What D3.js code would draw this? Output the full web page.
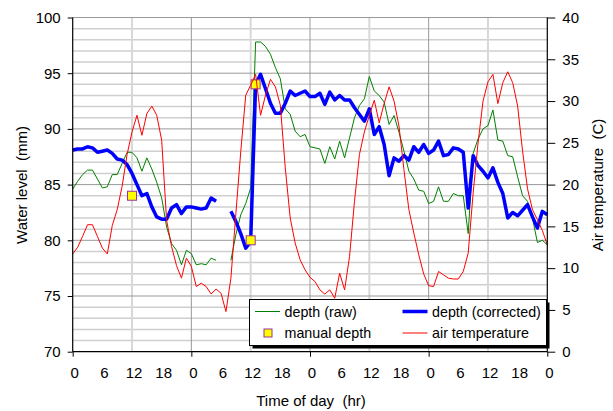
<!DOCTYPE html>
<html>
<head>
<meta charset="utf-8">
<script src="https://cdn.jsdelivr.net/npm/d3@7"></script>
<style>
  body { margin: 0; background: #fff; }
  svg text { font-family: "Liberation Sans", Arial, sans-serif; fill: #000; white-space: pre; }
</style>
</head>
<body>
<svg id="chart" width="613" height="411"></svg>
<script>
// hourly readings, 0..96 h
const hours = d3.range(0, 97);

const airTemp = [
  11.7, 12.5, 13.8, 15.2, 15.2, 13.8, 12.4, 11.7, 15.1, 17.0,
  19.8, 23.6, 26.3, 28.3, 25.9, 28.5, 29.4, 28.3, 25.3, 15.7,
  12.6, 10.3, 8.8, 11.2, 10.2, 7.8, 8.2, 7.8, 6.9, 7.5,
  7.0, 4.8, 8.8, 16.5, 24.0, 30.7, 31.9, 33.2, 28.3, 30.7,
  32.6, 31.7, 29.5, 22.0, 16.0, 13.0, 11.0, 9.8, 8.9, 8.4,
  7.4, 6.9, 7.4, 6.4, 9.4, 7.4, 11.4, 18.0, 23.6, 26.3,
  28.3, 30.1, 27.4, 29.7, 31.7, 30.0, 27.0, 21.8, 17.0, 14.2,
  11.6, 9.3, 7.9, 7.8, 9.6, 9.2, 8.8, 8.7, 8.7, 9.6,
  11.8, 19.0, 25.0, 30.0, 32.3, 33.2, 29.7, 32.2, 33.5, 32.2,
  29.4, 24.0, 19.5, 17.0, 15.8, 14.5, 12.8
];

const rawDepth = [
  84.6, 85.3, 85.9, 86.3, 86.3, 85.5, 84.7, 84.8, 85.9, 85.9,
  86.9, 87.9, 87.9, 87.4, 86.2, 87.4, 86.4, 85.2, 83.8, 81.2,
  79.7, 79.1, 77.8, 79.1, 78.8, 77.8, 77.9, 77.8, 78.4, 78.2,
  null, null, 78.2, 80.5, 82.3, 83.3, 84.7, 97.8, 97.8, 97.4,
  96.7, 95.5, 94.5, 91.8, 91.3, 89.8, 89.3, 89.5, 88.4, 88.3,
  88.2, 86.9, 88.4, 87.3, 88.9, 87.4, 89.2, 91.0, 92.1, 92.7,
  94.7, 93.4, 93.0, 92.4, 90.4, 91.2, 89.7, 88.0, 86.2, 85.5,
  84.5, 84.4, 83.3, 83.5, 84.8, 83.5, 83.5, 84.2, 84.0, 84.0,
  80.6, 87.8, 89.1, 90.0, 90.3, 91.7, 89.0, 88.9, 87.6, 87.5,
  85.7, 84.0, 83.5, 82.0, 79.8, 80.0, 79.6
];

const corrDepth = [
  88.1, 88.2, 88.2, 88.4, 88.3, 87.9, 88.0, 88.1, 87.8, 87.3,
  87.2, 86.8, 86.0, 85.0, 84.0, 84.2, 83.0, 82.1, 81.9, 81.9,
  82.9, 83.2, 82.4, 83.0, 83.0, 82.9, 82.8, 82.9, 83.8, 83.5,
  null, null, 82.6, 81.7, 80.6, 79.3, 79.9, 94.0, 94.9, 93.6,
  92.3, 91.4, 91.4, 92.3, 93.4, 93.0, 93.2, 93.4, 92.9, 92.9,
  93.2, 92.2, 93.3, 92.6, 93.0, 92.6, 92.6, 91.9, 91.3, 90.7,
  91.8, 89.5, 90.2, 88.6, 85.8, 87.4, 87.1, 87.6, 87.2, 88.4,
  87.9, 88.6, 87.8, 88.1, 88.9, 87.6, 87.7, 88.3, 88.2, 87.9,
  82.9, 87.6, 86.7, 86.2, 85.6, 86.5, 85.2, 84.2, 82.0, 82.5,
  82.2, 82.7, 83.2, 82.1, 81.1, 82.6, 82.3
];

const manualHours = [12, 36, 37];
const manualDepth = [84.0, 80.0, 94.0];

const depthTicks = [70, 75, 80, 85, 90, 95, 100];
const tempTicks = [0, 5, 10, 15, 20, 25, 30, 35, 40];
const hourTicks = d3.range(0, 97, 6);

const svg = d3.select("#chart");
const plotL = 72.7, plotR = 547.3, plotT = 17.5, plotB = 351.7;

const x = d3.scaleLinear().domain([0, 96]).range([plotL, plotR]);
const yL = d3.scaleLinear().domain([70, 100]).range([plotB, plotT]);
const yR = d3.scaleLinear().domain([0, 40]).range([plotB, plotT]);

// grid
const grid = svg.append("g");
grid.selectAll("line.minor")
  .data(d3.range(71, 100).filter(d => d % 5 != 0))
  .enter().append("line")
  .attr("x1", plotL).attr("x2", plotR)
  .attr("y1", d => yL(d)).attr("y2", d => yL(d))
  .attr("stroke", "#cfcfcf").attr("stroke-width", 1.5);
grid.selectAll("line.vmin")
  .data([12, 36, 60, 84])
  .enter().append("line")
  .attr("x1", d => x(d)).attr("x2", d => x(d))
  .attr("y1", plotT).attr("y2", plotB)
  .attr("stroke", "#d8d8d8").attr("stroke-width", 2);
grid.selectAll("line.major")
  .data([75, 80, 85, 90, 95, 100])
  .enter().append("line")
  .attr("x1", plotL).attr("x2", plotR)
  .attr("y1", d => yL(d)).attr("y2", d => yL(d))
  .attr("stroke", "#999").attr("stroke-width", 1);
grid.selectAll("line.vmaj")
  .data([24, 48, 72])
  .enter().append("line")
  .attr("x1", d => x(d)).attr("x2", d => x(d))
  .attr("y1", plotT).attr("y2", plotB)
  .attr("stroke", "#999").attr("stroke-width", 1);

// series
const lineOf = (scale, vals) => d3.line()
  .defined((d, i) => vals[i] != null)
  .x(d => x(d))
  .y((d, i) => scale(vals[i]));

svg.append("path").datum(hours)
  .attr("d", lineOf(yL, rawDepth))
  .attr("fill", "none").attr("stroke", "#008000").attr("stroke-width", 1);

svg.append("path").datum(hours)
  .attr("d", lineOf(yL, corrDepth))
  .attr("fill", "none").attr("stroke", "#0000ff").attr("stroke-width", 3.5)
  .attr("stroke-linejoin", "round");

svg.selectAll("rect.manual")
  .data(manualHours)
  .enter().append("rect")
  .attr("x", d => x(d) - 4.5)
  .attr("y", (d, i) => yL(manualDepth[i]) - 4.5)
  .attr("width", 9).attr("height", 9)
  .attr("fill", "#ffff00").attr("stroke", "#993399").attr("stroke-width", 1);

svg.append("path").datum(hours)
  .attr("d", lineOf(yR, airTemp))
  .attr("fill", "none").attr("stroke", "#ff0000").attr("stroke-width", 1);

// axes
const axL = svg.append("g").attr("transform", `translate(${plotL},0)`)
  .call(d3.axisLeft(yL).tickValues(depthTicks).tickSize(5).tickPadding(7));
const axR = svg.append("g").attr("transform", `translate(${plotR},0)`)
  .call(d3.axisRight(yR).tickValues(tempTicks).tickSize(8).tickPadding(7));
const axB = svg.append("g").attr("transform", `translate(0,${plotB})`)
  .call(d3.axisBottom(x).tickValues(hourTicks).tickFormat(d => d % 24).tickSize(5).tickPadding(11));
axB.selectAll(".tick line").attr("y2", d => d % 24 == 0 ? 5 : 0);
axB.selectAll(".tick text").attr("dx", 1.5);

[axL, axR, axB].forEach(a => {
  a.select(".domain").attr("stroke", "#000").attr("stroke-width", 1.2);
  a.selectAll(".tick line").attr("stroke", "#000");
  a.selectAll("text").style("font-size", "15px");
});
axL.select(".domain").attr("d", `M0,${plotB}V${plotT}`);
axR.select(".domain").attr("d", `M0,${plotB}V${plotT}`);
axB.select(".domain").attr("d", `M${plotL},0H${plotR}`);

// titles
svg.append("text").attr("x", 311).attr("y", 406)
  .attr("text-anchor", "middle").style("font-size", "15px")
  .text("Time of day  (hr)");
svg.append("text")
  .attr("transform", "translate(27,185) rotate(-90)")
  .attr("text-anchor", "middle").style("font-size", "15px")
  .text("Water level  (mm)");
svg.append("text")
  .attr("transform", "translate(603,185) rotate(-90)")
  .attr("text-anchor", "middle").style("font-size", "15px")
  .text("Air temperature  (C)");

// legend
const lg = svg.append("g").attr("transform", "translate(249.5,299.5)");
lg.append("rect").attr("x", 3).attr("y", 3).attr("width", 297).attr("height", 46).attr("fill", "#000");
lg.append("rect").attr("width", 297).attr("height", 46).attr("fill", "#fff").attr("stroke", "#000");

const items = [
  { label: "depth (raw)", color: "#008000", w: 1, col: 0, row: 0 },
  { label: "depth (corrected)", color: "#0000ff", w: 3.5, col: 1, row: 0 },
  { label: "manual depth", marker: true, col: 0, row: 1 },
  { label: "air temperature", color: "#ff0000", w: 1, col: 1, row: 1 }
];
items.forEach(it => {
  const gx = it.col ? 153 : 5.5, gy = it.row ? 33.5 : 12;
  if (it.marker) {
    lg.append("rect").attr("x", gx + 9).attr("y", gy - 4).attr("width", 8).attr("height", 8)
      .attr("fill", "#ffff00").attr("stroke", "#993399");
  } else {
    lg.append("line").attr("x1", gx).attr("x2", gx + 25).attr("y1", gy).attr("y2", gy)
      .attr("stroke", it.color).attr("stroke-width", it.w);
  }
  lg.append("text").attr("x", gx + 29.5).attr("y", gy + 5)
    .style("font-size", "14.3px").text(it.label);
});
</script>
</body>
</html>
